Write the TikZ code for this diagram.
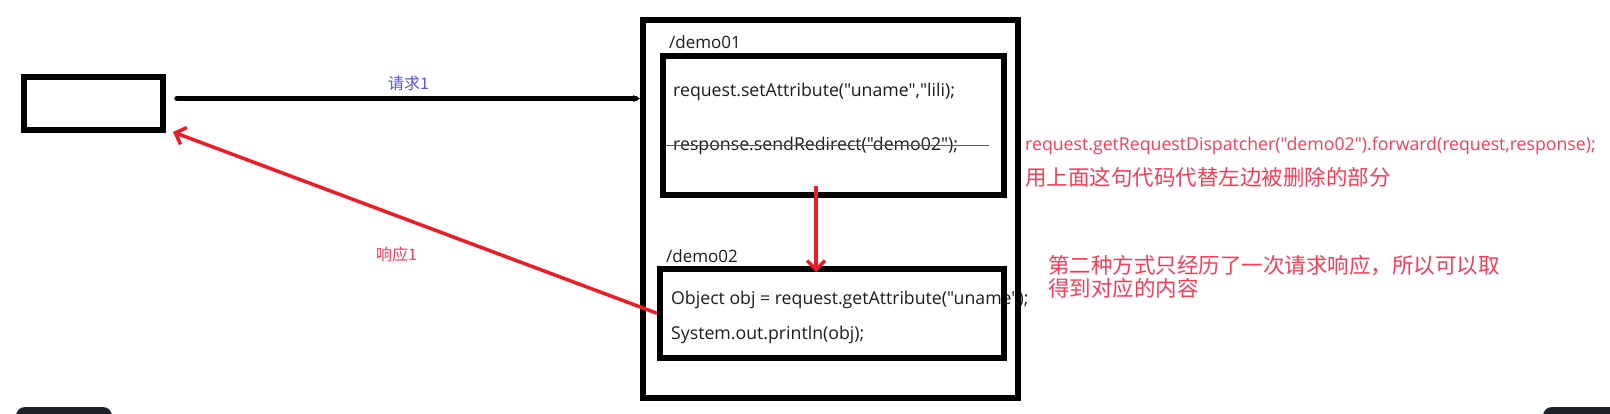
\documentclass[tikz,border=0pt]{standalone}
\usepackage{fontspec}
\setmainfont{Open Sans}[Ligatures=TeXOff]
\newfontfamily\cjk{Noto Sans CJK SC}
\usetikzlibrary{arrows.meta,positioning,calc}
\definecolor{ink}{RGB}{28,28,32}
\definecolor{arrowred}{RGB}{236,28,36}
\definecolor{notered}{RGB}{252,58,84}
\definecolor{reqblue}{RGB}{84,84,222}
\definecolor{barfill}{RGB}{30,34,44}

\begin{document}
\begin{tikzpicture}[x=1pt,y=-1pt,
    box/.style={draw=black, line width=6pt, inner sep=0pt},
    code/.style={anchor=base west, inner sep=0pt, text=ink, font=\fontsize{17.7}{20}\selectfont},
    note/.style={anchor=base west, inner sep=0pt, text=notered, font=\cjk\fontsize{21.5}{24}\selectfont},
    tag/.style={anchor=base west, inner sep=0pt, font=\cjk\fontsize{16}{18}\selectfont},
    req/.style={line width=5.5pt, line cap=round, -{Stealth[length=7pt,width=7pt]}},
    resp/.style={arrowred, line width=3.5pt, -{Straight Barb[length=9pt,width=18pt]}}]
  \useasboundingbox (0,0) rectangle (1610,414);
  \clip (0,0) rectangle (1610,414);
  % window corners at the bottom
  \fill[barfill, rounded corners=9pt] (16,407) rectangle (112,440);
  \fill[barfill, rounded corners=9pt] (1543,407) rectangle (1640,440);
  % servlet texts
  \node[code, font=\fontsize{17}{20}\selectfont] (d1name) at (669,49) {/demo01};
  \node[code] (setattr) at (673,97) {request.setAttribute("uname","lili);};
  \node[code] (redir) at (673,151) {response.sendRedirect("demo02");};
  \node[code, font=\fontsize{17}{20}\selectfont] (d2name) at (666,263) {/demo02};
  \node[code] (getattr) at (671,305) {Object obj = request.getAttribute("uname");};
  \node[code] (println) at (671,339) {System.out.println(obj);};
  % browser and server
  \node[box, minimum width=139.5pt, minimum height=53.5pt] (client) at (93.25,103.75) {};
  \node[box, minimum width=375pt, minimum height=378pt] (server) at (830.5,209) {};
  \node[box, minimum width=341pt, minimum height=139pt] (d1) at (833.5,126) {};
  \node[box, minimum width=343.5pt, minimum height=88.5pt] (d2) at (831.75,313.25) {};
  \draw[arrowred, line width=1.5pt] (666,145.7) -- (989,145.7);
  % request and response
  \coordinate (qs) at (177,98.6);
  \draw[req] (qs) -- (qs -| server.west);
  \node[tag, text=reqblue] (reqlabel) at (388,89.5) {请求1};
  \draw[resp] (d2.west) -- ([xshift=7pt,yshift=1.5pt]client.south east);
  \node[tag, text=notered] (resplabel) at (376,260.5) {响应1};
  \coordinate (fwd) at (816,186);
  \draw[resp] (fwd) -- ([yshift=-6pt]fwd |- d2.north);
  % notes
  \node[code, text=notered] (dispatch) at (1025,151) {request.getRequestDispatcher("demo02").forward(request,response);};
  \node[note] (hint1) at (1025,186) {用上面这句代码代替左边被删除的部分};
  \node[note] (hint2) at (1048,273) {第二种方式只经历了一次请求响应，所以可以取};
  \node[note] (hint3) at (1048,297) {得到对应的内容};
\end{tikzpicture}
\end{document}
